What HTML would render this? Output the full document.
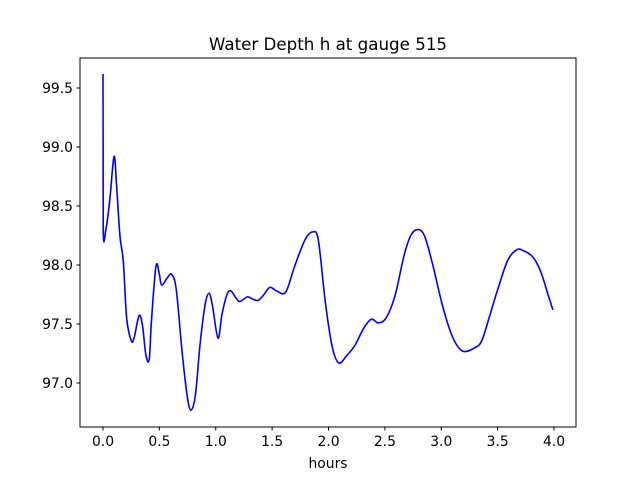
<!DOCTYPE html>
<html><head><meta charset="utf-8"><style>
body{margin:0;background:#fff}
svg text{font-family:"DejaVu Sans","Liberation Sans",sans-serif;fill:#000}
</style></head><body>
<svg width="640" height="480" xmlns="http://www.w3.org/2000/svg">
<rect width="640" height="480" fill="#fff"/>
<text x="328" y="50" font-size="16.7" text-anchor="middle">Water Depth h at gauge 515</text>
<g id="plot"></g>
<rect x="80" y="58" width="496" height="369" fill="none" stroke="#000" stroke-width="1"/>
<text x="328" y="468" font-size="13.9" text-anchor="middle">hours</text>
</svg>
<script>
const hours=[0,0.002,0.027,0.06,0.098,0.12,0.15,0.18,0.21,0.25,0.275,0.32,0.35,0.38,0.41,0.43,0.47,0.50,0.52,0.57,0.61,0.65,0.70,0.745,0.78,0.82,0.86,0.905,0.94,0.97,1.02,1.055,1.10,1.135,1.18,1.215,1.28,1.33,1.375,1.42,1.48,1.54,1.62,1.70,1.79,1.86,1.91,1.97,2.03,2.09,2.16,2.235,2.31,2.38,2.44,2.51,2.59,2.67,2.73,2.79,2.85,2.92,3.01,3.10,3.19,3.30,3.36,3.43,3.50,3.59,3.67,3.73,3.81,3.88,3.95,3.99];
const depth=[99.62,98.30,98.31,98.55,98.92,98.68,98.25,98.03,97.55,97.36,97.38,97.57,97.49,97.24,97.2,97.53,97.99,97.92,97.83,97.89,97.92,97.79,97.28,96.90,96.77,96.90,97.32,97.66,97.76,97.66,97.38,97.58,97.75,97.78,97.72,97.69,97.73,97.71,97.70,97.74,97.81,97.78,97.77,97.99,98.21,98.28,98.21,97.70,97.32,97.17,97.23,97.32,97.46,97.54,97.51,97.55,97.74,98.08,98.25,98.30,98.25,98.02,97.66,97.39,97.27,97.30,97.36,97.57,97.79,98.04,98.13,98.12,98.07,97.95,97.74,97.62];
const xTicks=[0,0.5,1,1.5,2,2.5,3,3.5,4];
const yTicks=[97,97.5,98,98.5,99,99.5];
const X=v=>103+v*112.75, Y=v=>88+(99.5-v)*118;
const g=document.getElementById('plot'),NS='http://www.w3.org/2000/svg';
function mk(t,a){const e=document.createElementNS(NS,t);for(const k in a)e.setAttribute(k,a[k]);g.appendChild(e);return e;}
xTicks.forEach(v=>{
 const l=mk('line',{x1:X(v),x2:X(v),y1:427,y2:430.5,stroke:'#000'});
 
 
 const t=mk('text',{x:X(v),y:446,'font-size':13.9,'text-anchor':'middle'});t.textContent=v.toFixed(1);
 
 
});
yTicks.forEach(v=>{
 const l=mk('line',{x1:76.5,x2:80,y1:Y(v),y2:Y(v),stroke:'#000'});
 
 
 const t=mk('text',{x:73,y:Y(v)+5,'font-size':13.9,'text-anchor':'end'});t.textContent=v.toFixed(1);
 
 
});
const P=hours.map((h,i)=>[X(h),Y(depth[i])]);
let d='M'+P[0][0]+','+P[0][1]+' L'+P[1][0]+','+P[1][1];
for(let i=1;i<P.length-1;i++){
 const p0=P[i-1],p1=P[i],p2=P[i+1],p3=P[Math.min(i+2,P.length-1)];
 const c1=[p1[0]+(p2[0]-p0[0])/6,p1[1]+(p2[1]-p0[1])/6];
 const c2=[p2[0]-(p3[0]-p1[0])/6,p2[1]-(p3[1]-p1[1])/6];
 d+=` C${c1[0]},${c1[1]} ${c2[0]},${c2[1]} ${p2[0]},${p2[1]}`;
}
const path=mk('path',{d:d,fill:'none',stroke:'#0000ff','stroke-width':1.6,'stroke-linejoin':'round'});


</script>
</body></html>
